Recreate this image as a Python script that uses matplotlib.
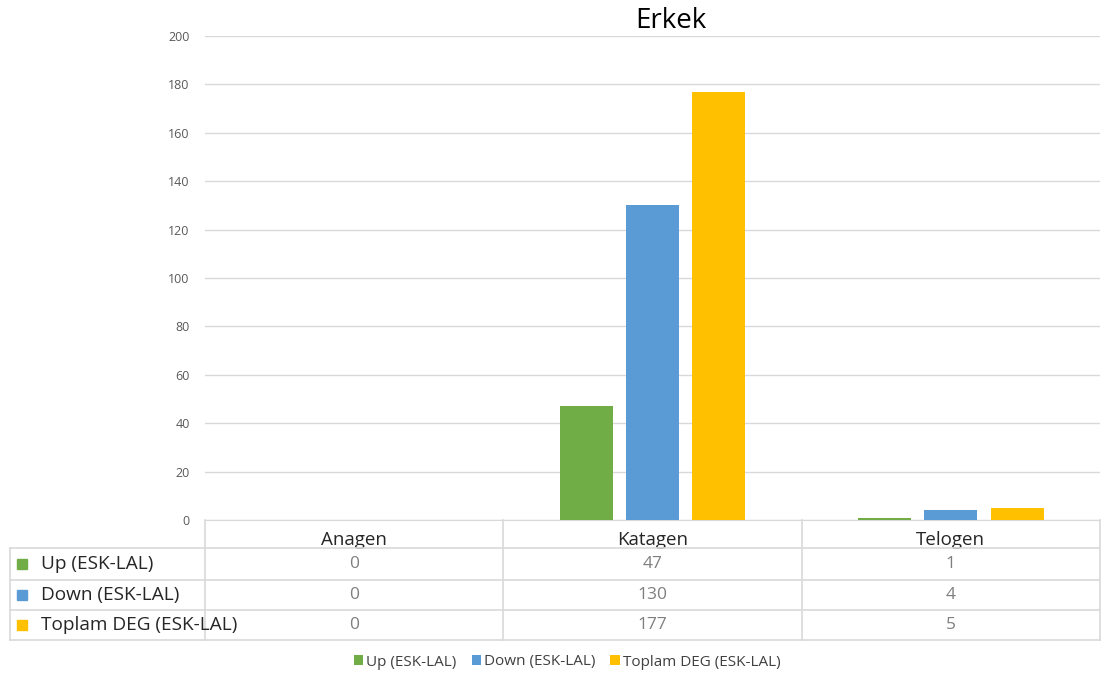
import matplotlib.pyplot as plt
from matplotlib.transforms import blended_transform_factory
from matplotlib.patches import Rectangle

# data
kategoriler = ["Anagen", "Katagen", "Telogen"]
seriler = ["Up (ESK-LAL)", "Down (ESK-LAL)", "Toplam DEG (ESK-LAL)"]
up = [0, 47, 1]
down = [0, 130, 4]
toplam = [0, 177, 5]
renkler = ["#70AD47", "#5B9BD5", "#FFC000"]
y_ticks = [0, 20, 40, 60, 80, 100, 120, 140, 160, 180, 200]

plt.rcParams["font.family"] = ["Open Sans", "DejaVu Sans"]

W, H = 1101, 681
fig = plt.figure(figsize=(W / 100, H / 100), dpi=100)

def fy(py):
    return 1 - py / H

ax = fig.add_axes([205 / W, fy(520), (1100 - 205) / W, (520 - 36) / H])

#bars
degerler = [up, down, toplam]
bw = 0.178
ofs = [-0.222, 0, 0.222]
x = range(len(kategoriler))
for k in range(3):
    ax.bar([i + ofs[k] for i in x], degerler[k], width=bw, color=renkler[k],
           label=seriler[k], zorder=3)

ax.set_xlim(-0.5, 2.5)
ax.set_ylim(0, 200)
ax.set_yticks(y_ticks)
ax.set_yticklabels([str(t) for t in y_ticks], fontsize=9, color="#595959")
ax.tick_params(axis="y", length=0, pad=11)
ax.set_xticks([])
ax.grid(axis="y", color="#d9d9d9", linewidth=1, zorder=0)
for s in ["top", "right", "left"]:
    ax.spines[s].set_visible(False)
ax.spines["bottom"].set_color("#d9d9d9")
ax.set_title("Erkek", fontsize=20, color="#000000", pad=6, x=0.52)

# data table below the chart
tr = blended_transform_factory(ax.transData, fig.transFigure)
lc = "#d9d9d9"
satir_y = [520, 548, 580, 610, 640]
# vertical lines on category borders
for b in [-0.5, 0.5, 1.5, 2.5]:
    ax.plot([b, b], [fy(520), fy(640)], transform=tr, color=lc, lw=1.2,
            clip_on=False)
# horizontal lines
for yy in satir_y[1:]:
    fig.add_artist(plt.Line2D([10 / W, 1100 / W], [fy(yy), fy(yy)], color=lc, lw=1.2))
fig.add_artist(plt.Line2D([10 / W, 10 / W], [fy(548), fy(640)], color=lc, lw=1.2))

# header
for i, kat in enumerate(kategoriler):
    ax.text(i, fy(540), kat, transform=tr, ha="center", va="center",
            fontsize=13.5, color="#262626")

# rows
for r in range(3):
    yc = (satir_y[r + 1] + satir_y[r + 2]) / 2
    fig.add_artist(Rectangle((17 / W, fy(yc + 5)), 10 / W, 10 / H,
                             color=renkler[r], transform=fig.transFigure))
    fig.text(41 / W, fy(yc), seriler[r], ha="left", va="center",
             fontsize=13.7, color="#262626")
    for i in range(3):
        ax.text(i, fy(yc), str(degerler[r][i]), transform=tr, ha="center",
                va="center", fontsize=12.5, color="#7f7f7f")

# legend
fig.legend(loc="center", bbox_to_anchor=(0.515, fy(662)), ncol=3, frameon=False,
           fontsize=11, handlelength=0.6, handleheight=0.6, handletextpad=0.2,
           columnspacing=1.0, labelcolor="#404040")

plt.savefig("out.png", dpi=100)
